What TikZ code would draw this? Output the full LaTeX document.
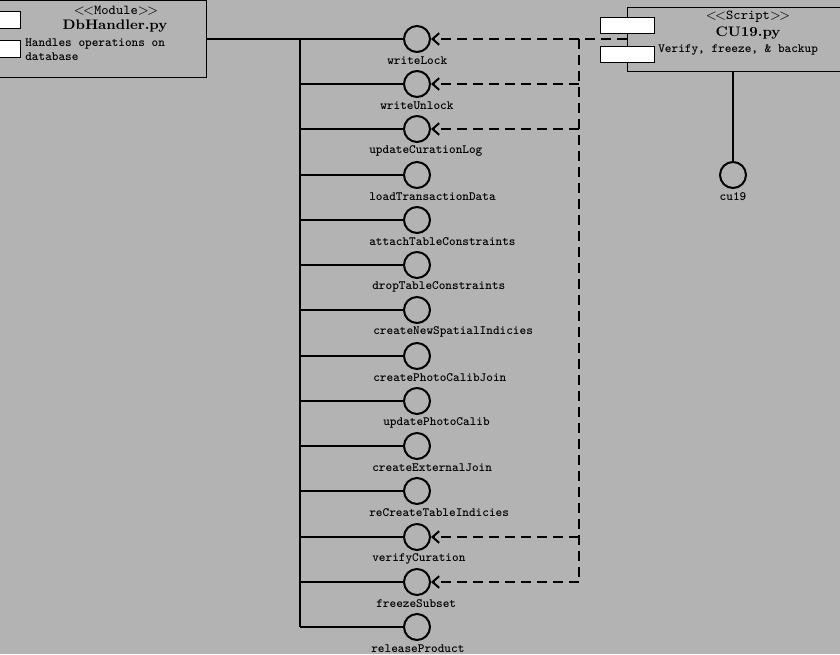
\documentclass[tikz,border=0pt]{standalone}
\usepackage{fontspec}
\usetikzlibrary{arrows.meta}
\begin{document}
\begin{tikzpicture}[x=0.6pt,y=-0.6pt,
  lbl/.style={font=\fontsize{7.6}{9}\selectfont\ttfamily\bfseries,inner sep=0pt},
  iface/.style={circle,draw,line width=1.2pt,minimum size=15.6pt,inner sep=0pt},
  solidln/.style={line width=1.2pt},
  dep/.style={line width=1.2pt,dashed,dash pattern=on 6pt off 3.6pt,-{Straight Barb[length=4pt,width=7pt]}},
  dl/.style={line width=1.2pt,dashed,dash pattern=on 6pt off 3.6pt},
  box/.style={draw,line width=0.6pt},
  tab/.style={draw,line width=0.6pt,fill=white},
  stereo/.style={inner sep=0pt,font=\fontsize{8.2}{9}\selectfont\ttfamily}]
\definecolor{bg}{RGB}{179,179,179}
\fill[bg] (0,0) rectangle (840,654);
\useasboundingbox (0,0) rectangle (840,654);
\draw[box,fill=bg] (-1,0) rectangle (206,77);
\draw[tab] (-1,11) rectangle (20,28);
\draw[tab] (-1,40) rectangle (20,57);
\node[stereo] (mst) at (116,11) {$<$\kern-1pt$<$Module$>$\kern-1pt$>$};
\node[inner sep=0pt,font=\fontsize{8.3}{10}\selectfont\bfseries] (mname) at (115,26) {DbHandler.py};
\node[lbl,anchor=north west,align=left,font=\fontsize{7.6}{8.6}\selectfont\ttfamily\bfseries] (mdesc) at (25,38) {Handles operations on\\database};
\coordinate (mout) at (206,39);
\draw[box,fill=bg] (627,7) rectangle (840,71);
\draw[tab] (600,17) rectangle (654,33);
\draw[tab] (600,46) rectangle (654,62);
\node[stereo] (sst) at (748,17) {$<$\kern-1pt$<$Script$>$\kern-1pt$>$};
\node[inner sep=0pt,font=\fontsize{8.3}{10}\selectfont\bfseries] (sname) at (748,33) {CU19.py};
\node[lbl,anchor=west] (sdesc) at (658,50) {Verify, freeze, \& backup};
\coordinate (sin) at (627,39);
\coordinate (sbot) at (733,71);
\node[iface] (cu) at (733,175) {};
\node[lbl] at (733,197) {cu19};
\draw[solidln] (sbot) -- (cu);
\coordinate (tt) at (300,39);
\coordinate (tb) at (300,627);
\draw[solidln] (mout) -- (tt) -- (tb);
\foreach \n/\y/\lx/\t in {1/39/387/writeLock,2/84/380/writeUnlock,3/129/369/updateCurationLog,4/175/369/loadTransactionData,5/220/369/attachTableConstraints,6/265/372/dropTableConstraints,7/310/373/createNewSpatialIndicies,8/356/373/createPhotoCalibJoin,9/401/383/updatePhotoCalib,10/446/372/createExternalJoin,11/491/369/reCreateTableIndicies,12/537/372/verifyCuration,13/582/376/freezeSubset,14/627/371/releaseProduct}{
  \node[iface] (c\n) at (417,\y) {};
  \node[lbl,anchor=west] (l\n) at (\lx,\y+22) {\t};
  \coordinate (b\n) at (300,\y);
  \draw[solidln] (b\n) -- (c\n);
}
\coordinate (dt) at (579,39);
\coordinate (db) at (579,582);
\draw[dl] (sin) -- (dt) -- (db);
\draw[dep] (dt) -- (c1);
\foreach \n/\y in {2/84,3/129,12/537,13/582}{
  \coordinate (d\n) at (579,\y);
  \draw[dep] (d\n) -- (c\n);
}
\end{tikzpicture}
\end{document}
